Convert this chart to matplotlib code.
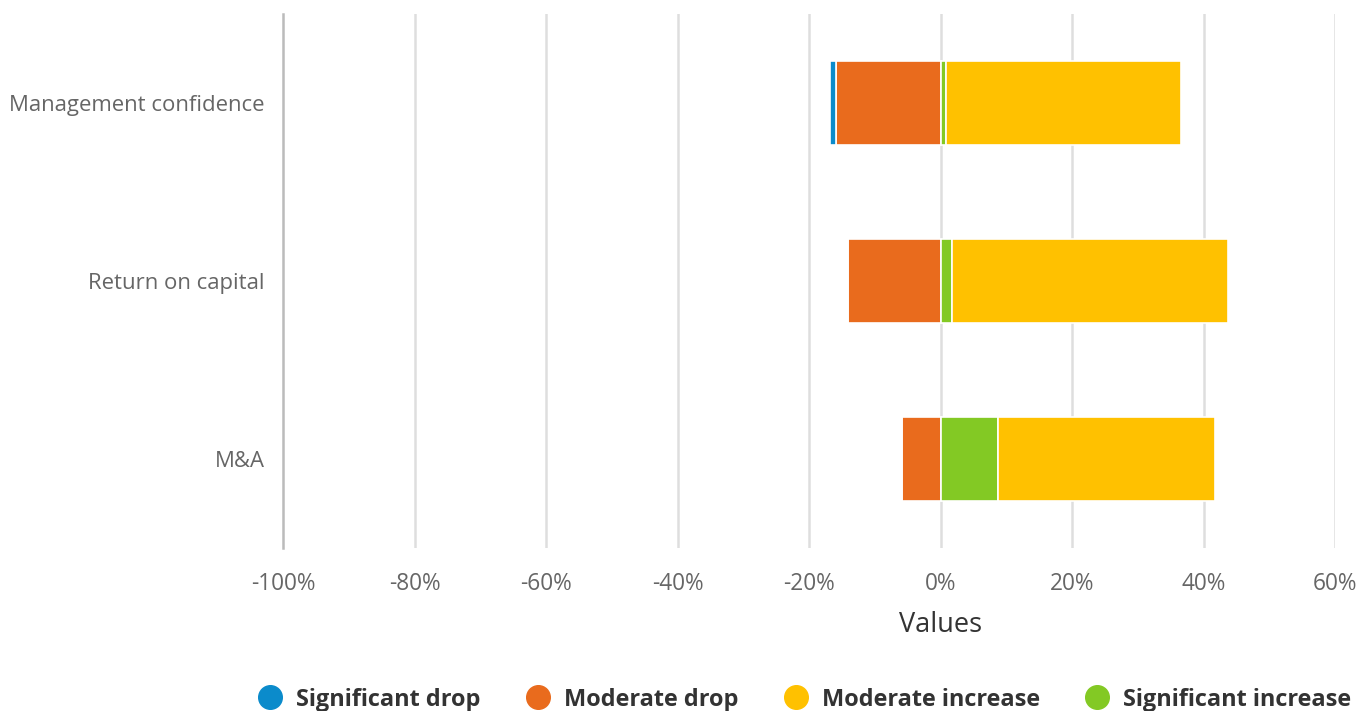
import matplotlib.pyplot as plt
import numpy as np
from matplotlib.lines import Line2D

# data (percent)
categories = ["Management confidence", "Return on capital", "M&A"]
significant_drop = [0.9, 0.0, 0.0]
moderate_drop = [15.9, 14.0, 5.9]
moderate_increase = [35.8, 41.9, 33.0]
significant_increase = [0.8, 1.8, 8.7]

tick_values = [-100, -80, -60, -40, -20, 0, 20, 40, 60]
tick_labels = ["-100%", "-80%", "-60%", "-40%", "-20%", "0%", "20%", "40%", "60%"]

c_sig_drop = "#0B8BCB"
c_mod_drop = "#E96B1D"
c_mod_inc = "#FFC100"
c_sig_inc = "#83C924"

plt.rcParams['font.family'] = ['Open Sans', 'DejaVu Sans']

fig = plt.figure(figsize=(13.63, 7.11), dpi=100)
ax = fig.add_axes([283 / 1363, 1 - 548 / 711, (1335 - 283) / 1363, (548 - 14) / 711])

y = np.arange(len(categories))
md = np.array(moderate_drop)
sd = np.array(significant_drop)
si = np.array(significant_increase)
mi = np.array(moderate_increase)

h = 0.47
kw = dict(height=h, edgecolor="white", linewidth=1.2, zorder=3)
ax.barh(y, -md, left=0, color=c_mod_drop, **kw)
ax.barh(y, -sd, left=-md, color=c_sig_drop, **kw)
ax.barh(y, si, left=0, color=c_sig_inc, **kw)
ax.barh(y, mi, left=si, color=c_mod_inc, **kw)

ax.set_xlim(-100, 60)
ax.set_ylim(len(categories) - 0.5, -0.5)
ax.set_yticks(y)
ax.set_yticklabels(categories)
ax.set_xticks(tick_values)
ax.set_xticklabels(tick_labels)
ax.tick_params(axis="both", length=0, labelcolor="#666666")
ax.tick_params(axis="y", pad=13, labelsize=15.9)
ax.tick_params(axis="x", pad=17, labelsize=16.3)

for v in tick_values[1:]:
    ax.axvline(v, color="#dedede", linewidth=1.8, zorder=1)

for s in ["top", "right", "bottom"]:
    ax.spines[s].set_visible(False)
ax.spines["left"].set_color("#bbbbbb")
ax.spines["left"].set_linewidth(1.8)

# axis title sits under the 0% line
ax.set_xlabel("Values", fontsize=19.5, color="#333333")
ax.xaxis.set_label_coords(100 / 160, -0.118)

# legend, in the original order
names = ["Significant drop", "Moderate drop", "Moderate increase", "Significant increase"]
cols = [c_sig_drop, c_mod_drop, c_mod_inc, c_sig_inc]
handles = [Line2D([], [], marker="o", linestyle="", markersize=17, color=c) for c in cols]
fig.legend(handles, names, loc="center", bbox_to_anchor=(0.5905, 0.016), ncol=4,
           frameon=False, handlelength=1.0, handletextpad=0.6, columnspacing=1.95,
           prop={"weight": "bold", "size": 16.9}, labelcolor="#333333")

fig.savefig("out.png", dpi=100)
